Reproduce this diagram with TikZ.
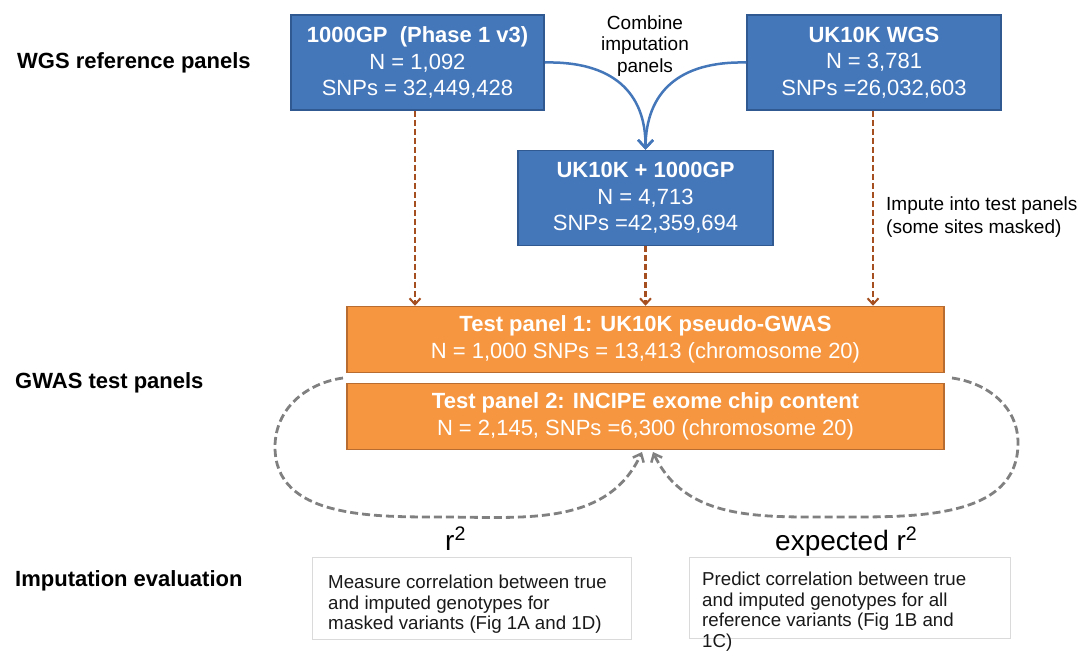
\documentclass[tikz,border=0pt]{standalone}
\usepackage{fontspec}
\setmainfont{Liberation Sans}
\usetikzlibrary{arrows.meta}
\definecolor{boxblue}{RGB}{68,118,186}
\definecolor{boxblueline}{RGB}{48,88,145}
\definecolor{boxorange}{RGB}{246,150,64}
\definecolor{boxorangeline}{RGB}{184,108,48}
\definecolor{brownarrow}{RGB}{165,78,32}
\definecolor{loopgray}{RGB}{128,128,128}
\definecolor{evalline}{RGB}{218,218,218}
\definecolor{evaltext}{RGB}{25,25,25}
\begin{document}
\begin{tikzpicture}[x=1pt,y=-1pt,
  refbox/.style={draw=boxblueline, fill=boxblue, line width=1.5pt, text=white,
    align=center, inner sep=0pt, font=\fontsize{22}{26.5}\selectfont},
  testbox/.style={draw=boxorangeline, fill=boxorange, line width=1.5pt, text=white,
    align=center, inner sep=0pt, minimum width=597pt, minimum height=66pt,
    font=\fontsize{22}{26.5}\selectfont},
  evalbox/.style={draw=evalline, fill=white, line width=1pt, inner sep=0pt},
  evaltxt/.style={text=evaltext, align=left, inner sep=0pt, anchor=north west,
    font=\fontsize{18.7}{20.7}\selectfont},
  sidelabel/.style={font=\fontsize{22}{26}\selectfont\bfseries, anchor=base west, inner sep=0pt},
  note/.style={inner sep=0pt, font=\fontsize{19}{21.5}\selectfont},
  rlabel/.style={inner sep=0pt, anchor=base west, font=\fontsize{28}{30}\selectfont},
  combarrow/.style={draw=boxblue, line width=2.5pt, -{Straight Barb[length=8pt,width=15pt,line width=2.5pt]}},
  imparrow/.style={draw=brownarrow, line width=2.5pt, dash pattern=on 6pt off 3pt,
    -{Straight Barb[length=6pt,width=11pt,line width=2pt]}},
  looparrow/.style={draw=loopgray, line width=2.8pt, dash pattern=on 8pt off 4pt,
    -{Straight Barb[length=7pt,width=12pt,line width=2.5pt]}}
]
\useasboundingbox (0,0) rectangle (1085,657);

% side labels
\node[sidelabel] (lab1) at (17,68) {WGS reference panels};
\node[sidelabel] (lab2) at (15,388) {GWAS test panels};
\node[sidelabel] (lab3) at (15,586) {Imputation evaluation};

% reference panels
\node[refbox, minimum width=253pt, minimum height=95pt] (g1000) at (417.5,62.5)
  {\textbf{1000GP\ \ (Phase 1 v3)}\\N = 1,092\\SNPs = 32,449,428};
\node[refbox, minimum width=254pt, minimum height=95pt] (uk) at (874,62.5)
  {\textbf{UK10K WGS}\\N = 3,781\\SNPs =26,032,603};
\node[refbox, minimum width=255pt, minimum height=95pt] (merged) at (645.5,198)
  {\textbf{UK10K + 1000GP}\\N = 4,713\\SNPs =42,359,694};

% test panels
\node[testbox] (t1) at (645.5,339.5)
  {\textbf{Test panel 1: UK10K pseudo-GWAS}\\N = 1,000 SNPs = 13,413 (chromosome 20)};
\node[testbox] (t2) at (645.5,416.5)
  {\textbf{Test panel 2: INCIPE exome chip content}\\N = 2,145, SNPs =6,300 (chromosome 20)};

% notes
\node[note, align=center] (comb) at (645,46) {Combine\\imputation\\panels};
\node[note, align=left, anchor=north west, font=\fontsize{19}{23}\selectfont] (imp) at (886,196.5)
  {Impute into test panels\\(some sites masked)};

% combine arrows
\draw[combarrow] (g1000.east) .. controls (612,61) and (646,92) .. (merged.north);
\draw[combarrow] (uk.west) .. controls (679,61) and (646,92) .. (merged.north);

% impute arrows
\draw[imparrow] ([xshift=-2.5pt]g1000.south) -- ([xshift=-2.5pt]g1000.south |- t1.north);
\draw[imparrow] (merged.south) -- (merged.south |- t1.north);
\draw[imparrow] ([xshift=-1pt]uk.south) -- ([xshift=-1pt]uk.south |- t1.north);

% evaluation loops
\coordinate (lstart) at (343,378);
\coordinate (lend) at (642,452);
\coordinate (rstart) at (952,378);
\coordinate (rend) at (653,452);
\draw[looparrow] (lstart) to[out=188,in=90] (275,447) to[out=-90,in=180] (440,517)
  to[out=0,in=245] (lend);
\draw[looparrow] (rstart) to[out=-8,in=90] (1018,443) to[out=-90,in=0] (835,517)
  to[out=180,in=-65] (rend);

% r^2 labels
\node[rlabel] (r2) at (445,550) {r\textsuperscript{2}};
\node[rlabel] (er2) at (775,550) {expected r\textsuperscript{2}};

% evaluation boxes
\node[evalbox, minimum width=319pt, minimum height=82pt] (ev1) at (471.5,598) {};
\node[evalbox, minimum width=321pt, minimum height=81pt] (ev2) at (849.5,597.5) {};
\node[evaltxt] (ev1t) at (328,574.6)
  {Measure correlation between true\\and imputed genotypes for\\masked variants (Fig 1A and 1D)};
\node[evaltxt] (ev2t) at (702,571.6)
  {Predict correlation between true\\and imputed genotypes for all\\reference variants (Fig 1B and\\1C)};
\end{tikzpicture}
\end{document}
